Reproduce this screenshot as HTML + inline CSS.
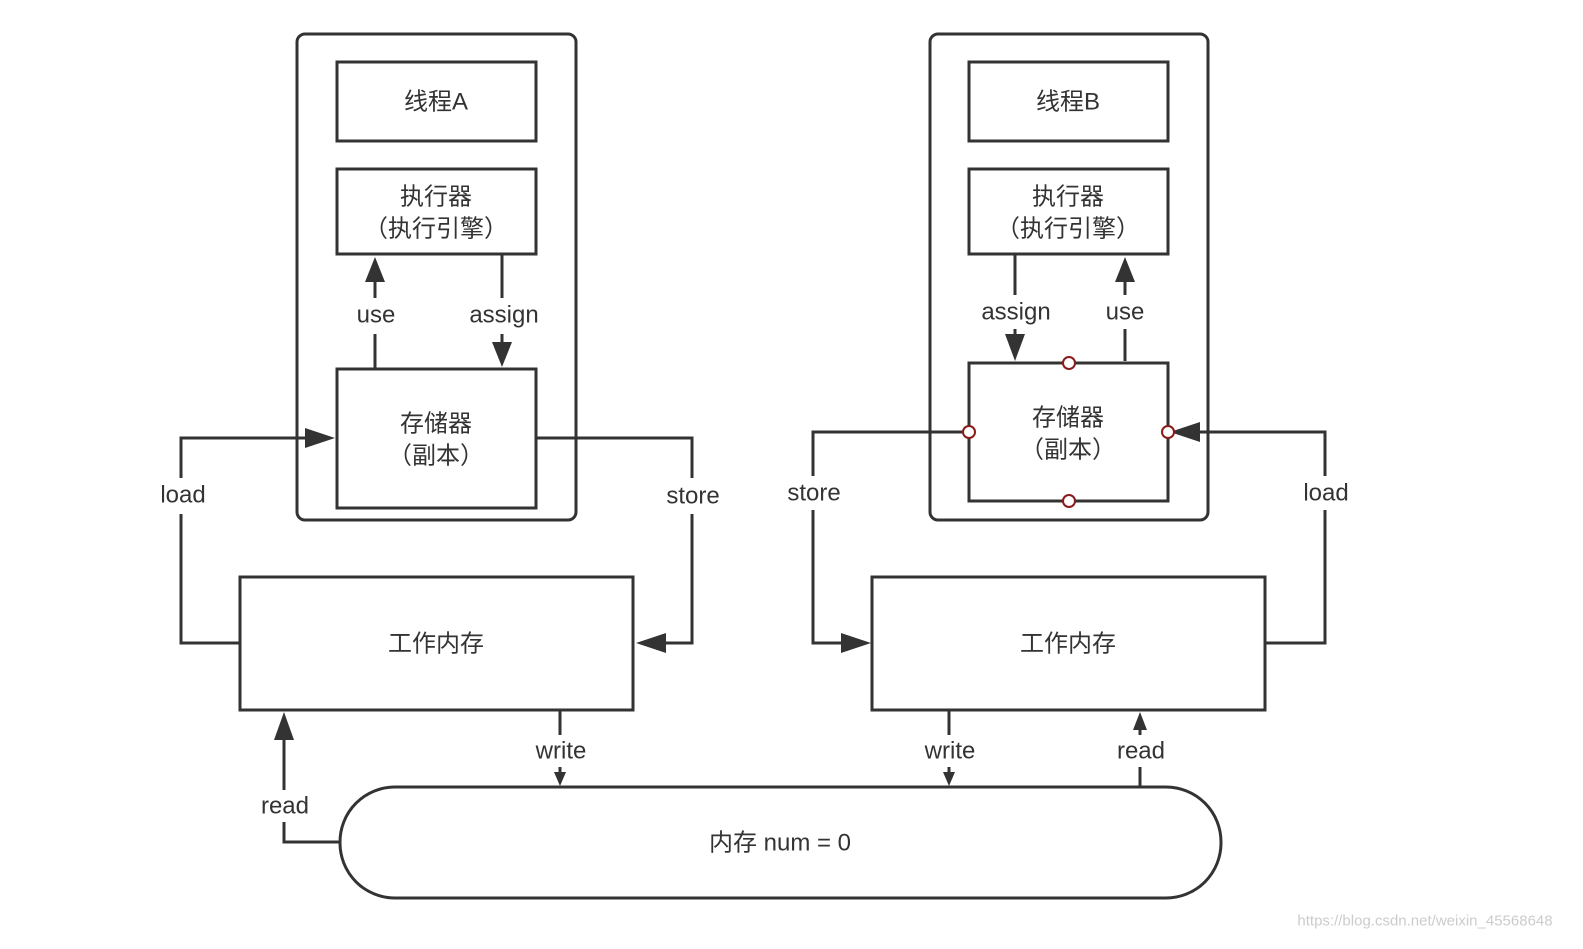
<!DOCTYPE html>
<html><head><meta charset="utf-8"><style>
html,body{margin:0;padding:0;background:#fff;}
svg{display:block}
text{font-family:"Liberation Sans","Noto Sans CJK SC",sans-serif;fill:#333;font-size:24px;text-anchor:middle;dominant-baseline:central}
.b{fill:#fff;stroke:#333;stroke-width:3}
.l{fill:none;stroke:#333;stroke-width:3}
.a{fill:#333}
.lb{fill:#fff;stroke:none}
</style></head><body>
<svg width="1583" height="949" viewBox="0 0 1583 949">
<!-- Left -->
<rect class="b" x="297" y="34" width="279" height="486" rx="8"/>
<rect class="b" x="337" y="62" width="199" height="79"/>
<text x="436" y="102">线程A</text>
<rect class="b" x="337" y="169" width="199" height="85"/>
<text x="436" y="197">执行器</text><text x="436" y="229">（执行引擎）</text>
<rect class="b" x="337" y="369" width="199" height="139"/>
<text x="436" y="424">存储器</text><text x="436" y="456">（副本）</text>
<line class="l" x1="375" y1="369" x2="375" y2="280"/>
<polygon class="a" points="375,257 365,282 385,282"/>
<rect class="lb" x="350" y="298" width="52" height="36"/><text x="376" y="315">use</text>
<line class="l" x1="502" y1="254" x2="502" y2="345"/>
<polygon class="a" points="502,367 492,342 512,342"/>
<rect class="lb" x="462" y="298" width="82" height="36"/><text x="504" y="315">assign</text>
<polyline class="l" points="240,643 181,643 181,438 312,438"/>
<polygon class="a" points="335,438 305,428 305,448"/>
<rect class="lb" x="152" y="478" width="62" height="36"/><text x="183" y="495">load</text>
<polyline class="l" points="536,438 692,438 692,643 660,643"/>
<polygon class="a" points="636,643 666,633 666,653"/>
<rect class="lb" x="658" y="478" width="72" height="36"/><text x="693" y="496">store</text>
<rect class="b" x="240" y="577" width="393" height="133"/>
<text x="436" y="644">工作内存</text>
<line class="l" x1="560" y1="710" x2="560" y2="772"/>
<polygon class="a" points="560,786 554,772 566,772"/>
<rect class="lb" x="528" y="735" width="66" height="32"/><text x="561" y="751">write</text>
<polyline class="l" points="340,842 284,842 284,735"/>
<polygon class="a" points="284,712 274,740 294,740"/>
<rect class="lb" x="254" y="790" width="62" height="32"/><text x="285" y="806">read</text>
<!-- Right -->
<rect class="b" x="930" y="34" width="278" height="486" rx="8"/>
<rect class="b" x="969" y="62" width="199" height="79"/>
<text x="1068" y="102">线程B</text>
<rect class="b" x="969" y="169" width="199" height="85"/>
<text x="1068" y="197">执行器</text><text x="1068" y="229">（执行引擎）</text>
<rect class="b" x="969" y="363" width="199" height="138"/>
<text x="1068" y="418">存储器</text><text x="1068" y="450">（副本）</text>
<line class="l" x1="1015" y1="254" x2="1015" y2="338"/>
<polygon class="a" points="1015,361 1005,334 1025,334"/>
<rect class="lb" x="975" y="295" width="82" height="34"/><text x="1016" y="312">assign</text>
<line class="l" x1="1125" y1="361" x2="1125" y2="280"/>
<polygon class="a" points="1125,257 1115,282 1135,282"/>
<rect class="lb" x="1100" y="295" width="52" height="34"/><text x="1125" y="312">use</text>
<polyline class="l" points="969,432 813,432 813,643 848,643"/>
<polygon class="a" points="871,643 841,633 841,653"/>
<rect class="lb" x="778" y="476" width="72" height="34"/><text x="814" y="493">store</text>
<polyline class="l" points="1266,643 1325,643 1325,432 1192,432"/>
<polygon class="a" points="1170,432 1200,422 1200,442"/>
<rect class="lb" x="1296" y="476" width="62" height="34"/><text x="1326" y="493">load</text>
<rect class="b" x="872" y="577" width="393" height="133"/>
<text x="1068" y="644">工作内存</text>
<line class="l" x1="949" y1="710" x2="949" y2="772"/>
<polygon class="a" points="949,786 943,772 955,772"/>
<rect class="lb" x="916" y="735" width="66" height="32"/><text x="950" y="751">write</text>
<line class="l" x1="1140" y1="786" x2="1140" y2="728"/>
<polygon class="a" points="1140,712 1133,730 1147,730"/>
<rect class="lb" x="1110" y="735" width="62" height="32"/><text x="1141" y="751">read</text>
<g fill="#fff" stroke="#8b1a1a" stroke-width="2">
<circle cx="1069" cy="363" r="6"/><circle cx="969" cy="432" r="6"/><circle cx="1168" cy="432" r="6"/><circle cx="1069" cy="501" r="6"/>
</g>
<!-- Memory -->
<rect class="b" x="340" y="787" width="881" height="111" rx="55"/>
<text x="780" y="843">内存 num = 0</text>
<text x="1425" y="921" style="font-size:15px;fill:#ccc">https://blog.csdn.net/weixin_45568648</text>
</svg>
</body></html>
